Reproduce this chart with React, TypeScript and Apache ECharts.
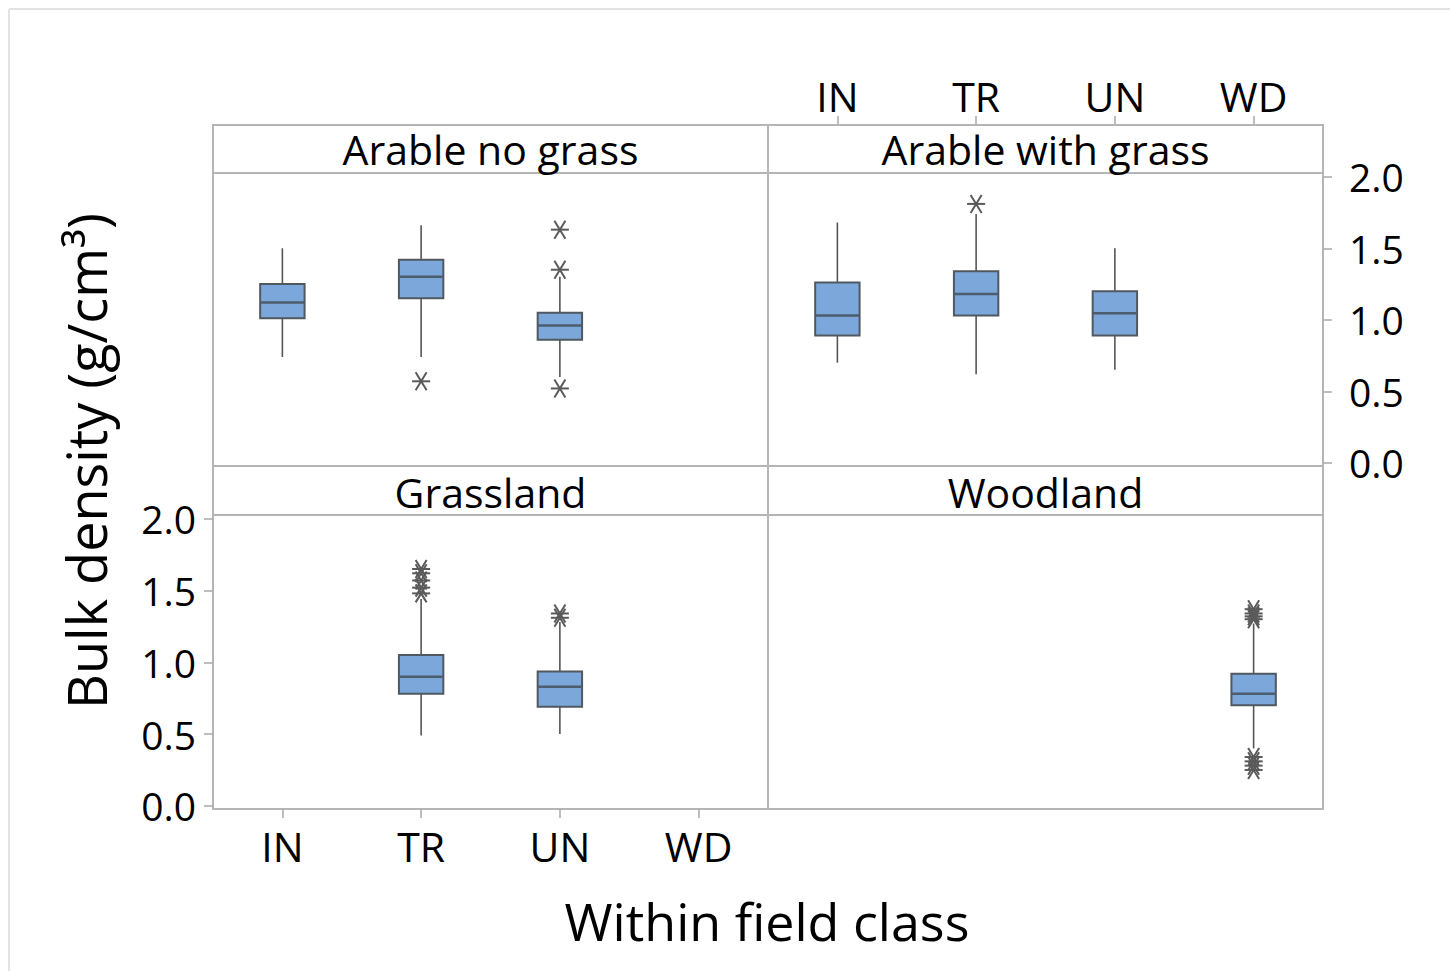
import React, { useEffect, useRef } from 'react';
import * as echarts from 'echarts';

const categories = ['IN', 'TR', 'UN', 'WD'];
const panelTitles = ['Arable no grass', 'Arable with grass', 'Grassland', 'Woodland'];
const yTicks = [0, 0.5, 1.0, 1.5, 2.0];
const xTitle = 'Within field class';
const yTitle = 'Bulk density (g/cm³)';

// [category, low whisker, Q1, median, Q3, high whisker]
const arableNoGrassBoxes: [string, number, number, number, number, number][] = [
  ['IN', 0.74, 1.01, 1.12, 1.25, 1.5],
  ['TR', 0.74, 1.15, 1.3, 1.42, 1.66],
  ['UN', 0.6, 0.86, 0.96, 1.05, 1.3],
];
const arableNoGrassOutliers: [string, number][] = [
  ['TR', 0.57],
  ['UN', 1.63],
  ['UN', 1.35],
  ['UN', 0.52],
];

const arableGrassBoxes: [string, number, number, number, number, number][] = [
  ['IN', 0.7, 0.89, 1.03, 1.26, 1.68],
  ['TR', 0.62, 1.03, 1.18, 1.34, 1.74],
  ['UN', 0.65, 0.89, 1.045, 1.2, 1.5],
];
const arableGrassOutliers: [string, number][] = [['TR', 1.81]];

const grasslandBoxes: [string, number, number, number, number, number][] = [
  ['TR', 0.49, 0.78, 0.9, 1.05, 1.44],
  ['UN', 0.5, 0.69, 0.83, 0.935, 1.28],
];
const grasslandOutliers: [string, number][] = [
  ['TR', 1.65],
  ['TR', 1.62],
  ['TR', 1.57],
  ['TR', 1.52],
  ['TR', 1.48],
  ['UN', 1.34],
  ['UN', 1.31],
];

const woodlandBoxes: [string, number, number, number, number, number][] = [
  ['WD', 0.4, 0.7, 0.78, 0.92, 1.27],
];
const woodlandOutliers: [string, number][] = [
  ['WD', 1.37],
  ['WD', 1.34],
  ['WD', 1.32],
  ['WD', 1.3],
  ['WD', 0.34],
  ['WD', 0.31],
  ['WD', 0.28],
  ['WD', 0.25],
];

const panelBoxes = [arableNoGrassBoxes, arableGrassBoxes, grasslandBoxes, woodlandBoxes];
const panelOutliers = [arableNoGrassOutliers, arableGrassOutliers, grasslandOutliers, woodlandOutliers];

const FONT = '"Open Sans", "Noto Sans", sans-serif';
const BORDER = '#b5b5b5';
const BOX_FILL = '#7ba7db';
const BOX_STROKE = '#505860';
const MEDIAN = '#4d5d6e';
const WHISKER = '#555555';
const STAR = '#5a5a5a';

const Y_MIN = -0.022;
const Y_MAX = 2.026;

const gridRects = [
  { left: 213, top: 173, width: 555, height: 293 },
  { left: 768, top: 173, width: 555, height: 293 },
  { left: 213, top: 515, width: 555, height: 294 },
  { left: 768, top: 515, width: 555, height: 294 },
];
const headerRects = [
  { x: 213, y: 125, w: 555, h: 48, ty: 149 },
  { x: 768, y: 125, w: 555, h: 48, ty: 149 },
  { x: 213, y: 466, w: 555, h: 49, ty: 492 },
  { x: 768, y: 466, w: 555, h: 49, ty: 492 },
];

function renderBox(params: any, api: any) {
  const ci = api.value(0);
  const lo = api.coord([ci, api.value(1)]);
  const q1 = api.coord([ci, api.value(2)]);
  const md = api.coord([ci, api.value(3)]);
  const q3 = api.coord([ci, api.value(4)]);
  const hi = api.coord([ci, api.value(5)]);
  const bw = api.size([1, 0])[0] * 0.32;
  const cx = lo[0];
  return {
    type: 'group',
    children: [
      { type: 'line', shape: { x1: cx, y1: hi[1], x2: cx, y2: q3[1] }, style: { stroke: WHISKER, lineWidth: 1.6 } },
      { type: 'line', shape: { x1: cx, y1: q1[1], x2: cx, y2: lo[1] }, style: { stroke: WHISKER, lineWidth: 1.6 } },
      {
        type: 'rect',
        shape: { x: cx - bw / 2, y: q3[1], width: bw, height: q1[1] - q3[1] },
        style: { fill: BOX_FILL, stroke: BOX_STROKE, lineWidth: 2 },
      },
      { type: 'line', shape: { x1: cx - bw / 2, y1: md[1], x2: cx + bw / 2, y2: md[1] }, style: { stroke: MEDIAN, lineWidth: 2.5 } },
    ],
  };
}

function renderStar(params: any, api: any) {
  const p = api.coord([api.value(0), api.value(1)]);
  const [x, y] = p;
  const s = { stroke: STAR, lineWidth: 2 };
  return {
    type: 'group',
    children: [
      { type: 'line', shape: { x1: x - 9, y1: y, x2: x + 9, y2: y }, style: s },
      { type: 'line', shape: { x1: x - 5.5, y1: y - 9, x2: x + 5.5, y2: y + 9 }, style: s },
      { type: 'line', shape: { x1: x + 5.5, y1: y - 9, x2: x - 5.5, y2: y + 9 }, style: s },
    ],
  };
}

export default function App() {
  const ref = useRef<HTMLDivElement>(null);
  useEffect(() => {
    if (!ref.current) return;
    const chart = echarts.init(ref.current, null, { renderer: 'svg' });

    const grid = gridRects.map((g) => ({
      ...g,
      show: true,
      borderColor: BORDER,
      borderWidth: 2,
      backgroundColor: 'transparent',
      containLabel: false,
    }));

    const tickStyle = { color: '#a8a8a8', width: 1.5 };
    const xAxis = [0, 1, 2, 3].map((i) => ({
      type: 'category',
      gridIndex: i,
      data: categories,
      position: i === 1 ? 'top' : 'bottom',
      offset: i === 1 ? 48 : 0,
      boundaryGap: true,
      axisLine: { show: false, onZero: false },
      axisTick: {
        show: i === 1 || i === 2,
        alignWithLabel: true,
        length: 9,
        lineStyle: tickStyle,
      },
      axisLabel: {
        show: i === 1 || i === 2,
        margin: i === 1 ? 9 : 16,
        fontSize: 41,
        fontFamily: FONT,
        color: '#000',
      },
      splitLine: { show: false },
    }));

    const yAxis = [0, 1, 2, 3].map((i) => ({
      type: 'value',
      gridIndex: i,
      min: Y_MIN,
      max: Y_MAX,
      position: i === 1 ? 'right' : 'left',
      axisLine: { show: false, onZero: false },
      axisTick: {
        show: i === 1 || i === 2,
        customValues: yTicks,
        length: 9,
        lineStyle: tickStyle,
      },
      axisLabel: {
        show: i === 1 || i === 2,
        customValues: yTicks,
        formatter: (v: number) => v.toFixed(1),
        margin: i === 1 ? 26 : 17,
        fontSize: 39,
        fontFamily: FONT,
        color: '#000',
      },
      splitLine: { show: false },
    }));

    const series: any[] = [];
    panelBoxes.forEach((boxes, i) => {
      series.push({
        type: 'custom',
        xAxisIndex: i,
        yAxisIndex: i,
        renderItem: renderBox,
        encode: { x: 0, y: [1, 2, 3, 4, 5] },
        data: boxes.map((b) => [categories.indexOf(b[0]), b[1], b[2], b[3], b[4], b[5]]),
        z: 2,
      });
      series.push({
        type: 'custom',
        xAxisIndex: i,
        yAxisIndex: i,
        renderItem: renderStar,
        encode: { x: 0, y: 1 },
        data: panelOutliers[i].map((o) => [categories.indexOf(o[0]), o[1]]),
        z: 3,
      });
    });

    const graphic: any[] = [
      { type: 'line', shape: { x1: 9, y1: 9, x2: 1450, y2: 9 }, style: { stroke: '#e3e3e3', lineWidth: 2 }, z: 0 },
      { type: 'line', shape: { x1: 9, y1: 9, x2: 9, y2: 971 }, style: { stroke: '#e3e3e3', lineWidth: 2 }, z: 0 },
    ];
    headerRects.forEach((h, i) => {
      graphic.push({
        type: 'rect',
        shape: { x: h.x, y: h.y, width: h.w, height: h.h },
        style: { fill: '#fff', stroke: BORDER, lineWidth: 2 },
        z: 1,
      });
      graphic.push({
        type: 'text',
        x: h.x + h.w / 2,
        y: h.ty,
        style: {
          text: panelTitles[i],
          fontSize: 41,
          fontFamily: FONT,
          fill: '#000',
          align: 'center',
          verticalAlign: 'middle',
          textAlign: 'center',
          textVerticalAlign: 'middle',
        },
        z: 2,
      });
    });
    graphic.push({
      type: 'text',
      x: 767,
      y: 920,
      style: {
        text: xTitle,
        fontSize: 52,
        fontFamily: FONT,
        fill: '#000',
        align: 'center',
        verticalAlign: 'middle',
        textAlign: 'center',
        textVerticalAlign: 'middle',
      },
    });
    graphic.push({
      type: 'text',
      x: 86,
      y: 461,
      rotation: Math.PI / 2,
      style: {
        text: yTitle,
        fontSize: 54,
        fontFamily: FONT,
        fill: '#000',
        align: 'center',
        verticalAlign: 'middle',
        textAlign: 'center',
        textVerticalAlign: 'middle',
      },
    });

    chart.setOption({
      animation: false,
      backgroundColor: '#fff',
      grid,
      xAxis,
      yAxis,
      series,
      graphic,
    });
    return () => chart.dispose();
  }, []);
  return <div ref={ref} style={{ position: 'fixed', left: 0, top: 0, width: 1450, height: 971 }} />;
}
